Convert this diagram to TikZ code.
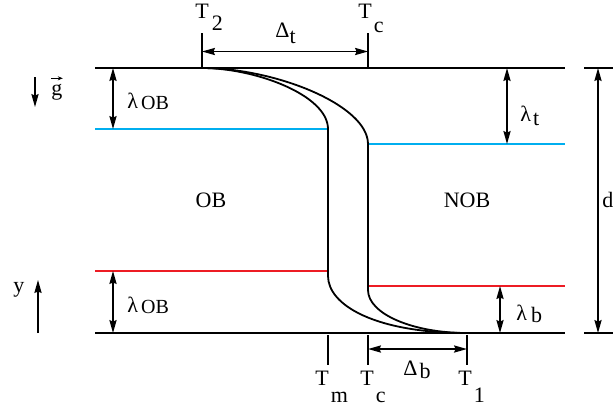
\documentclass[tikz,border=0pt]{standalone}
\usepackage{fontspec}
\setmainfont{Liberation Serif}
\usetikzlibrary{arrows.meta}
\definecolor{obblue}{RGB}{0,174,239}
\definecolor{obred}{RGB}{237,28,36}
\newcommand\lo[2]{\raisebox{-#1}{#2}}
\tikzset{
  lab/.style={font=\fontsize{11pt}{13pt}\selectfont, inner sep=0pt, anchor=base west},
  ctr/.style={font=\fontsize{11pt}{13pt}\selectfont, inner sep=0pt, anchor=base},
  wall/.style={line width=1pt, black},
  bottomwall/.style={line width=1.3pt, black},
  tickline/.style={line width=0.75pt},
  tip/.tip={Stealth[length=6.5pt,width=3.6pt,inset=0.8pt]},
  dimline/.style={line width=0.75pt, tip-tip},
  onearrow/.style={line width=0.75pt, -tip},
  prof/.style={line width=0.9pt},
  bl/.style={line width=1pt, obblue},
  rd/.style={line width=1pt, obred},
}
\begin{document}
\begin{tikzpicture}[x=0.5pt,y=-0.5pt]
\useasboundingbox (0,0) rectangle (613,409);
% walls
\coordinate (TL) at (95,68);   \coordinate (TR) at (565,68);
\coordinate (BL) at (95,333);  \coordinate (BR) at (565,333);
\draw[wall] (TL) -- (TR);
\draw[bottomwall] (BL) -- (BR);
% thermal boundary layers
\coordinate (blL) at (95,129);  \coordinate (blLe) at (328,129);
\coordinate (blR) at (368,144); \coordinate (blRe) at (565,144);
\coordinate (rdL) at (95,271);  \coordinate (rdLe) at (328,271);
\coordinate (rdR) at (368,286); \coordinate (rdRe) at (565,286);
\draw[bl] (blL) -- (blLe);
\draw[bl] (blR) -- (blRe);
\draw[rd] (rdL) -- (rdLe);
\draw[rd] (rdR) -- (rdRe);
% profiles
\coordinate (T2p) at (202,68);
\coordinate (T1p) at (467,333);
\draw[prof] (T2p) .. controls (255,68) and (328,95) .. (328,129) -- (328,276)
  .. controls (328,305) and (375,333) .. (T1p);
\draw[prof] (T2p) .. controls (275,68) and (368,105) .. (368,144) -- (368,290)
  .. controls (368,314) and (413,333) .. (T1p);
% top ticks and Delta_t
\coordinate (t2a) at (202,33); \coordinate (t2b) at (202,68);
\coordinate (tca) at (368,33); \coordinate (tcb) at (368,68);
\draw[tickline] (t2a) -- (t2b);
\draw[tickline] (tca) -- (tcb);
\coordinate (dta) at (202,51.5); \coordinate (dtb) at (368,51.5);
\draw[dimline] (dta) -- (dtb);
% bottom ticks and Delta_b
\coordinate (tma) at (328,335); \coordinate (tmb) at (328,365);
\coordinate (tcc) at (368,335); \coordinate (tcd) at (368,365);
\coordinate (t1a) at (467,335); \coordinate (t1b) at (467,365);
\draw[tickline] (tma) -- (tmb);
\draw[tickline] (tcc) -- (tcd);
\draw[tickline] (t1a) -- (t1b);
\coordinate (dba) at (368,349); \coordinate (dbb) at (467,349);
\draw[dimline] (dba) -- (dbb);
% lambda dimensions
\coordinate (l1a) at (113,68);  \coordinate (l1b) at (113,129);
\coordinate (l2a) at (113,271); \coordinate (l2b) at (113,333);
\coordinate (lta) at (507,68);  \coordinate (ltb) at (507,144);
\coordinate (lba) at (500,286); \coordinate (lbb) at (500,333);
\draw[dimline] (l1a) -- (l1b);
\draw[dimline] (l2a) -- (l2b);
\draw[dimline] (lta) -- (ltb);
\draw[dimline] (lba) -- (lbb);
% d dimension
\coordinate (da) at (584,68);  \coordinate (db) at (613,68);
\coordinate (dc) at (584,333); \coordinate (dd) at (613,333);
\draw[tickline] (da) -- (db);
\draw[tickline] (dc) -- (dd);
\coordinate (dm1) at (598,68); \coordinate (dm2) at (598,333);
\draw[dimline] (dm1) -- (dm2);
% g and y arrows
\coordinate (ga) at (35,77);  \coordinate (gb) at (35,107);
\draw[onearrow] (ga) -- (gb);
\coordinate (ya) at (38,333); \coordinate (yb) at (38,280);
\draw[onearrow] (ya) -- (yb);
% labels
\node[lab] (lT2) at (195,18) {T\hspace{1.5pt}\lo{6pt}{2}};
\node[lab] (lDt) at (275,37) {Δ\lo{3pt}{t}};
\node[lab] (lTct) at (358,18) {T\hspace{1pt}\lo{7pt}{c}};
\node[lab] (lTm) at (315,385) {T\hspace{1pt}\lo{8.5pt}{m}};
\node[lab] (lTcb) at (360,385) {T\hspace{1pt}\lo{8.5pt}{c}};
\node[lab] (lDb) at (403,375) {Δ\hspace{1pt}\lo{1.5pt}{b}};
\node[lab] (lT1) at (458,385) {T\hspace{1pt}\lo{8.5pt}{1}};
\node[lab] (lOBt) at (127,108) {λ\hspace{1.5pt}\lo{0.5pt}{\fontsize{10pt}{12pt}\selectfont OB}};
\node[lab] (lOBb) at (127,312) {λ\hspace{1.5pt}\lo{0.5pt}{\fontsize{10pt}{12pt}\selectfont OB}};
\node[lab] (llt) at (520,121) {λ\hspace{1pt}\lo{2pt}{t}};
\node[lab] (llb) at (516,320) {λ\hspace{2pt}\lo{1pt}{b}};
\node[ctr] (lOB) at (211,207) {OB};
\node[ctr] (lNOB) at (467,207) {NOB};
\node[lab] (ld) at (602,207) {d};
\node[lab] (ly) at (13,292) {y};
\node[lab] (lg) at (51,95) {g};
\draw[line width=0.5pt, -{Stealth[length=2.5pt,width=2pt]}] ([yshift=2.5pt]lg.north west) -- ([yshift=2.5pt]lg.north east);
\end{tikzpicture}
\end{document}
